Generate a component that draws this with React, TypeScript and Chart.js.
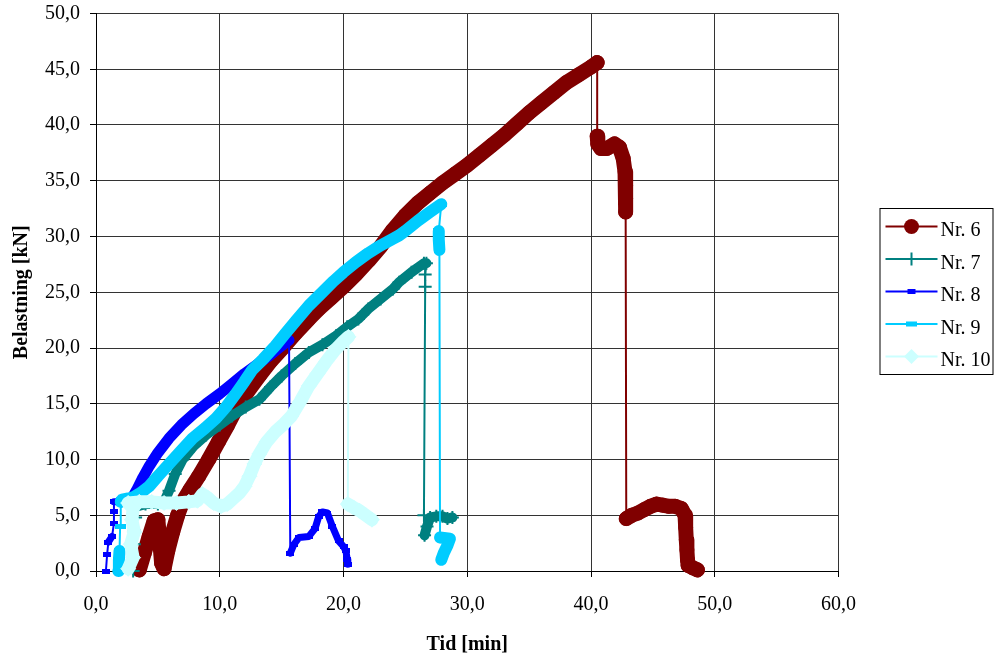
import React, { useEffect, useRef } from 'react';
import { Chart, registerables } from 'chart.js';

Chart.register(...registerables);

// ---------- data ----------
const seriesNames = ['Nr. 6', 'Nr. 7', 'Nr. 8', 'Nr. 9', 'Nr. 10'];
const seriesColors = ['#800000', '#008080', '#0000FF', '#00CCFF', '#CCFFFF'];

const nr6Time = [3.5, 3.9, 4.3, 4.7, 5.0, 5.1, 5.2, 5.3, 5.5, 5.8, 6.2, 6.6, 7.0, 7.6, 8.3, 9.1, 9.9, 10.6, 11.3, 12.2, 13.2, 14.1, 15.0, 16.1, 17.2, 18, 19, 20, 21, 22, 23, 24, 25, 26, 27, 28, 29, 30, 31, 32, 33, 34, 35, 36, 37, 38, 39, 40, 40.5, 40.5, 40.55, 40.8, 41.3, 41.9, 42.3, 42.6, 42.75, 42.8, 42.8, 42.8, 42.85, 43.3, 43.8, 44.3, 44.8, 45.3, 45.8, 46.3, 46.8, 47.3, 47.6, 47.65, 47.7, 47.75, 47.8, 47.85, 48.2, 48.6];
const nr6Load = [0.1, 1.6, 3.1, 4.5, 4.6, 3.3, 2.0, 0.7, 0.2, 1.8, 3.5, 5.0, 6.2, 7.3, 8.5, 10.0, 11.6, 13.0, 14.5, 16.0, 17.5, 18.8, 19.9, 21.3, 22.6, 23.5, 24.5, 25.5, 26.6, 27.8, 29.1, 30.6, 31.9, 33.0, 33.9, 34.8, 35.6, 36.4, 37.3, 38.2, 39.1, 40.1, 41.1, 42.0, 42.9, 43.8, 44.5, 45.2, 45.6, 39.0, 38.3, 37.9, 37.9, 38.3, 38.0, 37.0, 35.8, 34.6, 33.4, 32.2, 4.7, 5.0, 5.2, 5.5, 5.8, 6.0, 5.9, 5.8, 5.8, 5.6, 5.0, 3.9, 2.8, 1.9, 1.0, 0.5, 0.3, 0.1];

const nr7Time = [3.0, 3.0, 3.1, 3.1, 3.2, 3.3, 4.0, 5.0, 5.5, 5.9, 6.4, 7.0, 7.9, 8.9, 10.0, 11.0, 12.1, 13.2, 14.1, 15.0, 16.1, 17.2, 18.3, 19.4, 20.3, 21.2, 22.0, 23.0, 24.0, 24.5, 25.5, 26.5, 26.7, 26.6, 26.6, 26.5, 26.55, 26.75, 27.0, 27.5, 28.0, 28.4, 28.8];
const nr7Load = [0, 1.2, 2.4, 3.6, 4.8, 5.8, 6.0, 6.0, 6.2, 7.2, 8.7, 10.0, 11.2, 12.2, 13.1, 13.9, 14.7, 15.4, 16.5, 17.5, 18.6, 19.6, 20.3, 21.1, 21.9, 22.6, 23.5, 24.4, 25.3, 25.9, 26.8, 27.6, 27.6, 26.6, 25.5, 5.0, 3.2, 4.0, 4.8, 4.9, 4.9, 4.7, 4.8];

const nr8Time = [0.8, 0.9, 1.0, 1.3, 1.45, 1.45, 1.45, 2.0, 2.8, 3.3, 3.8, 4.3, 5.0, 5.9, 6.9, 7.9, 8.9, 10.0, 11.0, 12.0, 13.0, 14.0, 15.0, 15.6, 15.7, 16.0, 16.4, 17.2, 17.7, 18.0, 18.3, 18.7, 19.1, 19.6, 20.0, 20.2, 20.3, 20.35];
const nr8Load = [0, 1.5, 2.6, 3.1, 4.3, 5.3, 6.2, 6.2, 6.3, 7.3, 8.4, 9.4, 10.6, 11.9, 13.1, 14.1, 15.0, 15.9, 16.8, 17.7, 18.5, 19.3, 20.2, 20.7, 1.6, 2.4, 3.0, 3.1, 3.8, 4.9, 5.3, 5.2, 4.0, 2.7, 2.2, 1.8, 1.0, 0.6];

const nr9Time = [1.8, 1.85, 1.9, 1.95, 2.0, 2.1, 2.6, 3.0, 3.6, 4.3, 5.0, 5.9, 6.8, 7.8, 8.8, 9.7, 10.5, 11.3, 12.0, 12.6, 13.5, 14.5, 15.3, 16.2, 17.2, 18.2, 19.2, 20.0, 21.0, 22.0, 23.0, 24.0, 24.5, 25.0, 26.0, 27.0, 27.9, 27.7, 27.7, 27.75, 27.8, 28.6, 28.4, 28.1, 27.9];
const nr9Load = [0, 1.0, 1.8, 4.0, 6.2, 6.4, 6.5, 6.6, 7.0, 7.6, 8.5, 9.6, 10.7, 11.9, 12.8, 13.7, 14.7, 15.9, 17.0, 18.0, 19.0, 20.2, 21.3, 22.5, 23.8, 24.9, 26.0, 26.8, 27.7, 28.5, 29.2, 29.8, 30.1, 30.5, 31.4, 32.2, 32.9, 30.5, 29.7, 28.8, 3.0, 2.9, 2.3, 1.6, 1.0];

const nr10Time = [2.6, 3.0, 2.8, 3.1, 2.9, 3.0, 2.6, 3.5, 4.5, 5.5, 6.5, 7.5, 8.2, 8.6, 9.0, 9.5, 10.1, 10.6, 11.1, 11.6, 12.0, 12.4, 12.8, 13.2, 13.8, 14.5, 15.2, 15.8, 16.5, 17.2, 17.9, 18.6, 19.3, 20.0, 20.4, 20.35, 20.8, 21.3, 21.8, 22.3];
const nr10Load = [0.2, 1.2, 2.4, 3.5, 4.6, 5.6, 6.1, 6.2, 6.2, 6.1, 6.1, 6.2, 6.3, 6.9, 6.6, 6.1, 5.8, 6.0, 6.5, 7.0, 7.6, 8.5, 9.6, 10.5, 11.6, 12.5, 13.2, 13.9, 15.2, 16.6, 17.7, 18.8, 19.8, 20.6, 21.0, 6.0, 5.7, 5.4, 5.0, 4.6];

const xMin = 0, xMax = 60, xStep = 10;
const yMin = 0, yMax = 50, yStep = 5;
const xTitle = 'Tid [min]';
const yTitle = 'Belastning [kN]';

// ---------- styling ----------
const FONT = '"Liberation Serif", "Times New Roman", serif';
const bandWidths = [15, 10, 11, 12, 13];
const thinMinDy = [20, 10, 10, 20, 25];
const markerKinds = ['circle', 'cross', 'rectSmall', 'rectWide', 'diamond'];

const fmt = (v: number | string) => Number(v).toFixed(1).replace('.', ',');

function rectImage(w: number, h: number, color: string) {
  const c = document.createElement('canvas');
  c.width = w;
  c.height = h;
  const g = c.getContext('2d')!;
  g.fillStyle = color;
  g.fillRect(0, 0, w, h);
  return c;
}

function drawLegendMarker(ctx: CanvasRenderingContext2D, kind: string, x: number, y: number, color: string) {
  ctx.fillStyle = color;
  ctx.strokeStyle = color;
  if (kind === 'circle') {
    ctx.beginPath();
    ctx.arc(x, y, 7.5, 0, Math.PI * 2);
    ctx.fill();
  } else if (kind === 'cross') {
    ctx.lineWidth = 2;
    ctx.beginPath();
    ctx.moveTo(x, y - 6.5);
    ctx.lineTo(x, y + 6.5);
    ctx.moveTo(x - 6.5, y);
    ctx.lineTo(x + 6.5, y);
    ctx.stroke();
  } else if (kind === 'rectSmall') {
    ctx.fillRect(x - 4, y - 2.5, 8, 5);
  } else if (kind === 'rectWide') {
    ctx.fillRect(x - 5.5, y - 2.5, 11, 5);
  } else {
    ctx.beginPath();
    ctx.moveTo(x, y - 7.5);
    ctx.lineTo(x + 7.5, y);
    ctx.lineTo(x, y + 7.5);
    ctx.lineTo(x - 7.5, y);
    ctx.closePath();
    ctx.fill();
  }
}

const boxLegend = {
  id: 'boxLegend',
  afterDraw(chart: any) {
    const ctx: CanvasRenderingContext2D = chart.ctx;
    const left = chart.chartArea.right + 41.5;
    const top = 208.5;
    ctx.save();
    ctx.strokeStyle = '#000';
    ctx.lineWidth = 1;
    ctx.strokeRect(left, top, 113, 166);
    chart.data.datasets.forEach((ds: any, i: number) => {
      const y = top + 18 + 32.5 * i;
      ctx.strokeStyle = ds.borderColor;
      ctx.lineWidth = 2;
      ctx.beginPath();
      ctx.moveTo(left + 5.5, y);
      ctx.lineTo(left + 57.5, y);
      ctx.stroke();
      drawLegendMarker(ctx, markerKinds[i], left + 31.5, y, ds.borderColor);
      ctx.fillStyle = '#000';
      ctx.font = `20px ${FONT}`;
      ctx.textAlign = 'left';
      ctx.textBaseline = 'alphabetic';
      ctx.fillText(ds.label, left + 60.5, y + 9.5);
    });
    ctx.restore();
  },
};

export default function App() {
  const canvasRef = useRef<HTMLCanvasElement | null>(null);

  useEffect(() => {
    if (!canvasRef.current) return;
    const times = [nr6Time, nr7Time, nr8Time, nr9Time, nr10Time];
    const loads = [nr6Load, nr7Load, nr8Load, nr9Load, nr10Load];

    const pointStyles: any[] = [
      'circle',
      'cross',
      rectImage(8, 5, seriesColors[2]),
      rectImage(11, 5, seriesColors[3]),
      'rectRot',
    ];
    const pointRadii = [7, 6.5, 4, 5, 7.5];

    const datasets = seriesNames.map((name, i) => ({
      label: name,
      data: times[i].map((t, k) => ({ x: t, y: loads[i][k] })),
      borderColor: seriesColors[i],
      backgroundColor: seriesColors[i],
      borderWidth: bandWidths[i],
      borderCapStyle: 'round',
      borderJoinStyle: 'round',
      pointStyle: pointStyles[i],
      pointRadius: pointRadii[i],
      pointBackgroundColor: seriesColors[i],
      pointBorderColor: seriesColors[i],
      pointBorderWidth: i === 1 ? 2 : 1,
      tension: 0,
      fill: false,
      clip: 10,
      order: 5 - i,
      segment: {
        borderWidth: (ctx: any) => {
          const dx = Math.abs(ctx.p1.x - ctx.p0.x);
          const dy = Math.abs(ctx.p1.y - ctx.p0.y);
          if (dy > thinMinDy[i] && dx < 3) return 2;
          if (i === 2 && ctx.p0.y > ctx.chart.chartArea.bottom - 75 && ctx.p1.y > ctx.chart.chartArea.bottom - 75) return 7;
          return undefined;
        },
      },
    }));

    const tickFont = { family: FONT, size: 20 };
    const titleFont = { family: FONT, size: 20, weight: 'bold' as const };

    const chart = new Chart(canvasRef.current, {
      type: 'line',
      data: { datasets: datasets as any },
      options: {
        animation: false,
        responsive: true,
        maintainAspectRatio: false,
        layout: { padding: { left: 0, top: 13.5, right: 156.5, bottom: 0 } },
        plugins: {
          legend: { display: false },
          tooltip: { enabled: false },
        },
        scales: {
          x: {
            type: 'linear',
            min: xMin,
            max: xMax,
            ticks: { stepSize: xStep, callback: fmt, font: tickFont, color: '#000', padding: 16, maxRotation: 0, autoSkip: false },
            grid: { color: '#333', tickColor: '#000', tickLength: 6, lineWidth: 1 },
            border: { color: '#000', width: 1 },
            title: { display: true, text: xTitle, font: titleFont, color: '#000', padding: { top: 0, bottom: -2 } },
            afterFit: (s: any) => {
              s.height = 84;
              s.paddingLeft = 0;
              s.paddingRight = 0;
            },
          },
          y: {
            type: 'linear',
            min: yMin,
            max: yMax,
            ticks: { stepSize: yStep, callback: fmt, font: tickFont, color: '#000', padding: 10 },
            grid: { color: '#333', tickColor: '#000', tickLength: 6, lineWidth: 1 },
            border: { color: '#000', width: 1 },
            title: { display: true, text: yTitle, font: titleFont, color: '#000', padding: { top: 10, bottom: 0 } },
            afterFit: (s: any) => {
              s.width = 96;
              s.paddingTop = 0;
              s.paddingBottom = 0;
            },
          },
        },
      } as any,
      plugins: [boxLegend],
    });
    return () => chart.destroy();
  }, []);

  return (
    <div style={{ position: 'absolute', left: 0, top: 0, width: 995, height: 655, background: '#fff' }}>
      <canvas ref={canvasRef} />
    </div>
  );
}
